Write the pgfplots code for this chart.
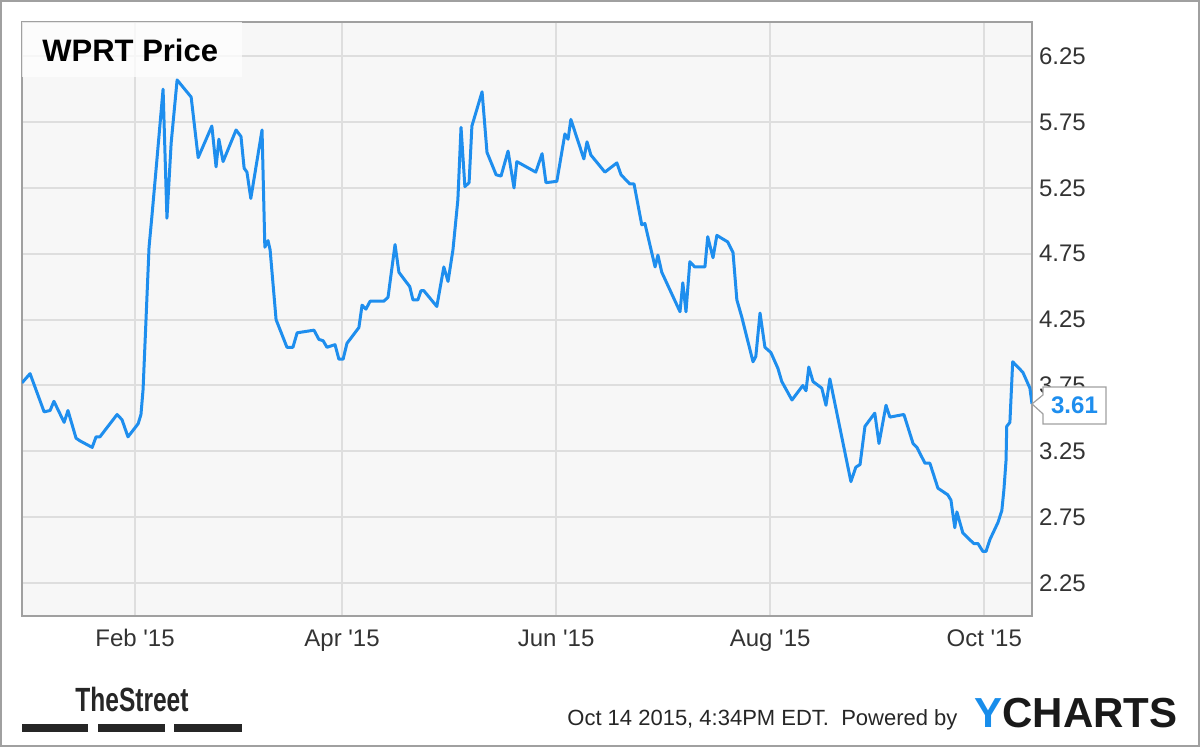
\documentclass[border=0pt]{standalone}
\usepackage{fontspec}
\setmainfont{Liberation Sans}
\usepackage{graphicx}
\usepackage{pgfplots}
\pgfplotsset{compat=1.18}
\definecolor{wprtblue}{RGB}{30,142,238}
\definecolor{plotbg}{RGB}{247,247,247}
\definecolor{gridgray}{RGB}{222,222,222}
\definecolor{framegray}{RGB}{160,160,160}
\definecolor{ylogo}{RGB}{24,141,235}

\begin{document}
\begin{tikzpicture}[x=0.5pt,y=0.5pt]
\path[use as bounding box] (0,0) rectangle (1200,747);
\draw[line width=1pt, draw=framegray] (1,1) rectangle (1199,746);

\begin{axis}[
    at={(11pt,65.5pt)}, anchor=south west,
    width=505pt, height=297pt, scale only axis,
    xmin=-1.2, xmax=286.6,
    ymin=2.0, ymax=6.51,
    axis background/.style={fill=plotbg},
    axis line style={draw=framegray, line width=0.8pt},
    xtick={31,90,151,212,273},
    xticklabels={Feb \textquotesingle15, Apr \textquotesingle15, Jun \textquotesingle15, Aug \textquotesingle15, Oct \textquotesingle15},
    ytick={2.25,2.75,3.25,3.75,4.25,4.75,5.25,5.75,6.25},
    yticklabel pos=right,
    yticklabel style={anchor=west, /pgf/number format/.cd, fixed, fixed zerofill, precision=2},
    xticklabel style={anchor=base, yshift=-15.5pt},
    ticklabel style={font=\fontsize{12}{14}\selectfont, text=black!80},
    /pgf/number format/assume math mode=true,
    major tick length=0pt,
    grid=major,
    major grid style={draw=gridgray, line width=1pt},
]
\addplot[wprtblue, line width=1.5pt, line join=round, mark=none] coordinates {
(-1.2,3.77) (1.1,3.84) (5.1,3.55) (6.8,3.56) (7.9,3.63) (10.8,3.47) (11.9,3.56)
(14.2,3.35) (15.3,3.33) (18.8,3.28) (19.9,3.36) (21.0,3.36) (25.9,3.53) (27.3,3.49)
(29.0,3.36) (31.9,3.46) (32.7,3.53) (33.3,3.72) (33.9,4.10) (35.0,4.80) (35.8,5.03)
(37.0,5.39) (39.0,6.00) (40.1,5.02) (41.3,5.59) (43.0,6.07) (47.0,5.94) (49.0,5.48)
(52.9,5.72) (54.1,5.41) (54.9,5.62) (56.1,5.45) (59.8,5.69) (61.2,5.64) (62.1,5.40)
(62.9,5.37) (64.0,5.17) (67.2,5.69) (68.0,4.80) (68.9,4.85) (69.5,4.78) (71.2,4.25)
(74.3,4.04) (76.0,4.04) (77.2,4.15) (82.0,4.17) (83.4,4.10) (84.6,4.09) (85.7,4.04)
(88.0,4.06) (89.1,3.95) (90.3,3.95) (91.4,4.07) (94.8,4.19) (95.7,4.36) (96.8,4.33)
(98.0,4.39) (101.9,4.39) (103.1,4.42) (105.1,4.82) (106.2,4.61) (109.3,4.50) (110.2,4.40)
(111.6,4.40) (112.5,4.47) (113.3,4.47) (117.0,4.35) (119.0,4.65) (120.2,4.54) (121.6,4.78)
(123.0,5.16) (123.9,5.71) (125.0,5.26) (126.2,5.29) (127.0,5.72) (129.9,5.98) (131.3,5.52)
(133.9,5.35) (135.3,5.34) (137.3,5.53) (139.0,5.25) (139.8,5.45) (145.2,5.37) (147.0,5.51)
(148.1,5.29) (151.2,5.30) (153.5,5.66) (154.4,5.62) (155.2,5.77) (158.9,5.47) (159.8,5.60)
(160.9,5.50) (164.9,5.37) (168.3,5.44) (169.5,5.35) (172.0,5.28) (173.2,5.28) (175.4,4.97)
(176.3,4.98) (179.2,4.65) (180.0,4.74) (181.1,4.61) (186.3,4.31) (187.1,4.53) (188.0,4.31)
(189.1,4.69) (190.5,4.65) (193.4,4.65) (194.2,4.88) (195.7,4.72) (196.8,4.89) (199.9,4.84)
(201.4,4.76) (202.5,4.40) (203.9,4.27) (207.1,3.93) (207.9,3.97) (209.1,4.30) (210.5,4.04)
(212.2,4.00) (214.2,3.88) (215.3,3.78) (218.2,3.64) (221.3,3.75) (222.2,3.71) (223.0,3.89)
(224.2,3.78) (226.7,3.73) (227.9,3.60) (229.0,3.80) (235.0,3.02) (236.4,3.13) (237.6,3.15)
(239.0,3.44) (241.8,3.54) (243.0,3.31) (245.0,3.60) (246.1,3.51) (250.1,3.53) (252.7,3.31)
(253.8,3.28) (256.1,3.16) (257.5,3.16) (259.8,2.97) (262.6,2.92) (263.5,2.88) (264.6,2.67)
(265.2,2.79) (266.9,2.63) (270.0,2.55) (271.2,2.55) (272.6,2.49) (273.5,2.49) (274.6,2.58)
(276.9,2.71) (278.0,2.80) (278.6,2.96) (279.2,3.18) (279.4,3.44) (280.3,3.47) (281.1,3.93)
(284.0,3.85) (286.0,3.73) (286.6,3.61)
};
\coordinate (last) at (axis cs:286.6,3.61);
\end{axis}

% title box
\fill[white, opacity=0.75] (22,725) rectangle (242,670);
\node[anchor=base west, inner sep=0, font=\bfseries\fontsize{15.5}{18}\selectfont] at (42,685) {WPRT Price};

% last value callout
\draw[framegray, fill=white, line width=0.6pt, line join=miter]
  (last) -- ++(11,9) -- ++(0,8) -- ++(63,0) -- ++(0,-37) -- ++(-63,0) -- ++(0,10) -- cycle;
\node[text=wprtblue, font=\bfseries\fontsize{12}{14}\selectfont] at ([shift={(42.5,-1.5)}]last) {3.61};

% footer
\node[anchor=base west, inner sep=0, font=\bfseries\fontsize{16.8}{18}\selectfont, text=black!85] at (75,35) {\scalebox{0.73}[1]{TheStreet}};
\fill[black!85] (22,15) rectangle (88,23);
\fill[black!85] (98,15) rectangle (165,23);
\fill[black!85] (174,15) rectangle (242,23);
\node[anchor=base west, inner sep=0, font=\fontsize{11}{13}\selectfont, text=black!85] at (567,21) {Oct 14 2015, 4:34PM EDT.\ \ Powered by};
\node[anchor=base east, inner sep=0, font=\bfseries\fontsize{21}{24}\selectfont, text=black!90] at (1178,19) {\textcolor{ylogo}{Y}CHARTS};
\end{tikzpicture}
\end{document}
